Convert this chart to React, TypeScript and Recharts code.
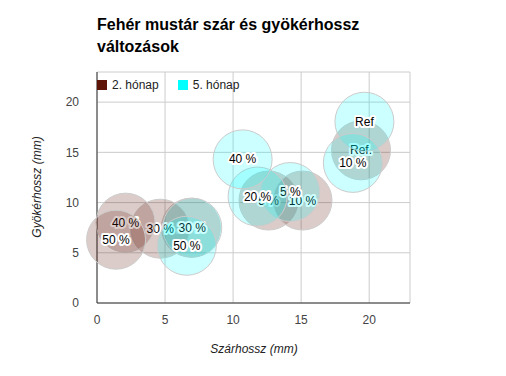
import { ScatterChart, Scatter, XAxis, YAxis, CartesianGrid } from 'recharts';

const seriesNames = ['2. hónap', '5. hónap'];
const seriesColors = ['#5e1507', '#00ffff'];

const month2Labels = ['Ref.', '5 %', '10 %', '20 %', '30 %', '40 %', '50 %'];
const month2X = [19.4, 12.6, 15.1, 6.9, 4.65, 2.1, 1.4];
const month2Y = [15.2, 10.2, 10.2, 7.5, 7.4, 8.0, 6.3];

const month5Labels = ['Ref', '5 %', '10 %', '20 %', '30 %', '40 %', '50 %'];
const month5X = [19.65, 14.2, 18.8, 11.8, 7.0, 10.7, 6.6];
const month5Y = [18.05, 11.05, 13.95, 10.6, 7.5, 14.3, 5.7];

const xTicks = [0, 5, 10, 15, 20];
const yTicks = [0, 5, 10, 15, 20];

const toPoints = (xs: number[], ys: number[], labels: string[]) =>
  xs.map((x, i) => ({ x, y: ys[i], label: labels[i] }));

const month2 = toPoints(month2X, month2Y, month2Labels);
const month5 = toPoints(month5X, month5Y, month5Labels);

const FONT = '"Liberation Sans", Arial, sans-serif';

function makeBubble(color: string, opacity: number) {
  return (props: any) => {
    const { cx, cy, payload } = props;
    return (
      <g>
        <circle cx={cx} cy={cy} r={29.5} fill={color} fillOpacity={opacity} stroke="#cccccc" strokeWidth={1} />
        <text
          x={cx}
          y={cy}
          dy={4}
          textAnchor="middle"
          fontFamily={FONT}
          fontSize={12}
          fill="#000"
          stroke="#fff"
          strokeWidth={4}
          paintOrder="stroke"
          strokeLinejoin="round"
        >
          {payload.label}
        </text>
      </g>
    );
  };
}

export default function App() {
  return (
    <div style={{ position: 'absolute', left: 0, top: 0, width: 506, height: 376, background: '#fff', fontFamily: FONT }}>
      <div style={{ position: 'absolute', left: 97, top: 14, fontSize: 16, fontWeight: 'bold', color: '#000', lineHeight: '22px' }}>
        Fehér mustár szár és gyökérhossz
        <br />
        változások
      </div>
      <ScatterChart width={506} height={376} margin={{ top: 72, right: 96, bottom: 43, left: 57 }}>
        <CartesianGrid stroke="#cccccc" />
        <XAxis
          type="number"
          dataKey="x"
          domain={[0, 23]}
          ticks={xTicks}
          axisLine={{ stroke: '#333' }}
          tickLine={false}
          tick={{ fill: '#444', fontSize: 12, fontFamily: FONT }}
          height={30}
          tickMargin={6}
        />
        <YAxis
          type="number"
          dataKey="y"
          domain={[0, 23]}
          ticks={yTicks}
          axisLine={{ stroke: '#333' }}
          tickLine={false}
          tick={{ fill: '#444', fontSize: 12, fontFamily: FONT }}
          width={40}
          tickMargin={12}
        />
        <Scatter data={month2} isAnimationActive={false} shape={makeBubble(seriesColors[0], 0.22)} />
        <Scatter data={month5} isAnimationActive={false} shape={makeBubble(seriesColors[1], 0.2)} />
      </ScatterChart>
      <div style={{ position: 'absolute', left: 97, top: 78, display: 'flex', alignItems: 'center', fontSize: 12, color: '#222' }}>
        <span style={{ width: 10, height: 10, background: seriesColors[0], display: 'inline-block', marginRight: 5 }} />
        <span style={{ marginRight: 19 }}>{seriesNames[0]}</span>
        <span style={{ width: 10, height: 10, background: seriesColors[1], display: 'inline-block', marginRight: 5 }} />
        <span>{seriesNames[1]}</span>
      </div>
      <div style={{ position: 'absolute', left: 254, top: 342, transform: 'translateX(-50%)', whiteSpace: 'nowrap', fontSize: 12, fontStyle: 'italic', color: '#222' }}>
        Szárhossz (mm)
      </div>
      <div style={{ position: 'absolute', left: 37, top: 187, transform: 'translate(-50%, -50%) rotate(-90deg)', whiteSpace: 'nowrap', fontSize: 12, fontStyle: 'italic', color: '#222' }}>
        Gyökérhossz (mm)
      </div>
    </div>
  );
}
